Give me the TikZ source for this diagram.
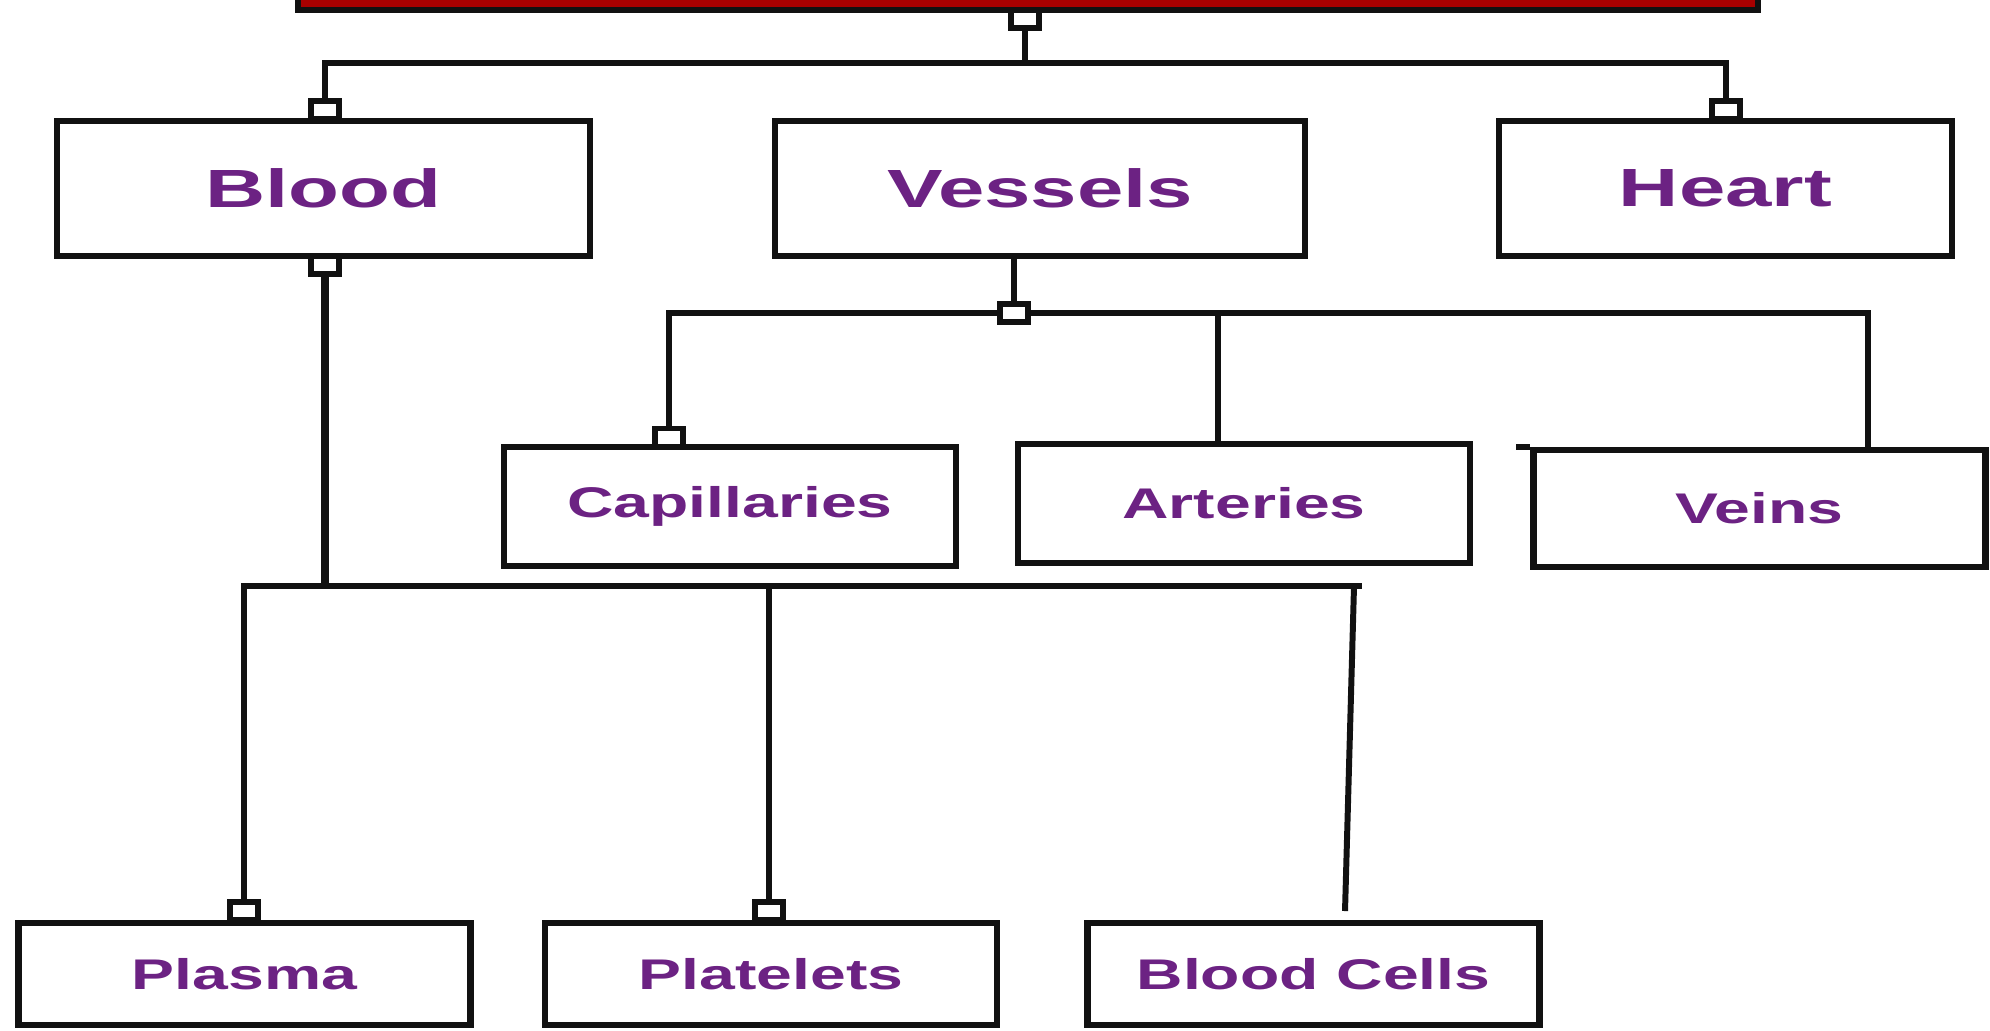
\documentclass[tikz,border=0pt]{standalone}
\usepackage{fontspec}
\usetikzlibrary{positioning,backgrounds}
\newfontfamily\headfont[FakeStretch=1.55]{Liberation Sans}
\newfontfamily\subfont[FakeStretch=1.5]{Liberation Sans}
\definecolor{labelP}{HTML}{6C2283}
\definecolor{barred}{HTML}{A80000}
\definecolor{ink}{HTML}{111111}
\tikzset{
  % ---- boxes -----------------------------------------------------
  titlebar/.style = {rectangle, draw=ink, fill=barred, line width=1.6pt,
                     minimum width=14.6cm, minimum height=0.7cm, inner sep=0pt},
  mainbox/.style  = {rectangle, draw=ink, fill=white, line width=1.8pt,
                     minimum height=1.35cm, inner sep=0pt, text=labelP,
                     font=\headfont\bfseries\fontsize{15.3pt}{18pt}\selectfont},
  subbox/.style   = {rectangle, draw=ink, fill=white, line width=1.8pt,
                     minimum width=4.52cm, minimum height=1.19cm, inner sep=0pt,
                     text=labelP, font=\subfont\bfseries\fontsize{12.2pt}{14pt}\selectfont},
  leafbox/.style  = {subbox, minimum height=1.02cm},
  % ---- connectors ------------------------------------------------
  pin/.style      = {rectangle, draw=ink, fill=white, line width=1.5pt,
                     minimum width=0.28cm, minimum height=0.18cm, inner sep=0pt},
  wire/.style     = {draw=ink, line width=1.7pt},
  trunk/.style    = {draw=ink, line width=2.4pt},
}

\begin{document}
\begin{tikzpicture}
  \useasboundingbox (0,0) rectangle (19.9,-10.3);
  % top bar and first level
  \node[titlebar] (title) at (10.28,0.25) {};
  \node[mainbox, minimum width=5.33cm] (blood) at (3.235,-1.885) {Blood};
  \node[mainbox, minimum width=5.30cm] (vessels) at (10.40,-1.885) {Vessels};
  \node[mainbox, minimum width=4.53cm] (heart) at (17.255,-1.885) {Heart};
  % vessel kinds
  \node[subbox] (capil) at (7.30,-5.065) {Capillaries};
  \node[subbox] (arter) at (12.44,-5.035) {Arteries};
  \node[subbox, minimum height=1.17cm] (veins) at (17.595,-5.085) {Veins};
  % blood parts
  \node[leafbox] (plasma) at (2.445,-9.74) {Plasma};
  \node[leafbox] (platel) at (7.71,-9.74) {Platelets};
  \node[leafbox] (bcells) at (13.135,-9.74) {Blood Cells};
  \draw[wire, line width=1.8pt] (veins.north west) -- ++(-0.14,0) coordinate (vnOver);

  % junction points
  \coordinate (jTop) at (10.25,-0.63);
  \coordinate (jBlood) at (3.25,-5.86);
  \coordinate (jBend) at (13.62,-5.86);
  \coordinate (bcTop) at (13.54,-5.86);
  \coordinate (bcEnd) at (13.45,-9.11);
  \coordinate (jArt) at (12.18,-3.13);
  \coordinate (jVein) at (18.68,-3.13);

  % pins
  \node[pin] (p0) at (10.25,-0.19) {};
  \node[pin] (pBl) at (3.25,-1.10) {};
  \node[pin] (pHt) at (17.26,-1.10) {};
  \node[pin] (pBb) at (3.25,-2.65) {};
  \node[pin] (pVs) at (10.14,-3.13) {};
  \node[pin] (pCp) at (6.69,-4.375) {};
  \node[pin] (pPl) at (2.44,-9.11) {};
  \node[pin] (pPt) at (7.69,-9.11) {};

  % connectors, kept under the pins
  \begin{scope}[on background layer]
  \draw[wire] (p0.south) -- (jTop);
  \draw[wire] (pBl.north) |- (jTop) -| (pHt.north);
  \draw[trunk] (pBb.south) -- (jBlood);
  \draw[wire] (pPl.north) |- (jBend);
  \draw[wire] (pPt.north) -- (pPt.north |- jBlood);
  \draw[wire] (bcTop) -- (bcEnd);
  \draw[wire] (pVs.north) -- (pVs.north |- vessels.south);
  \draw[wire] (pCp.north) |- (pVs.west);
  \draw[wire] (pVs.east) -- (jVein) -- (jVein |- veins.north);
  \draw[wire] (jArt) -- (jArt |- arter.north);
  \end{scope}
\end{tikzpicture}
\end{document}
